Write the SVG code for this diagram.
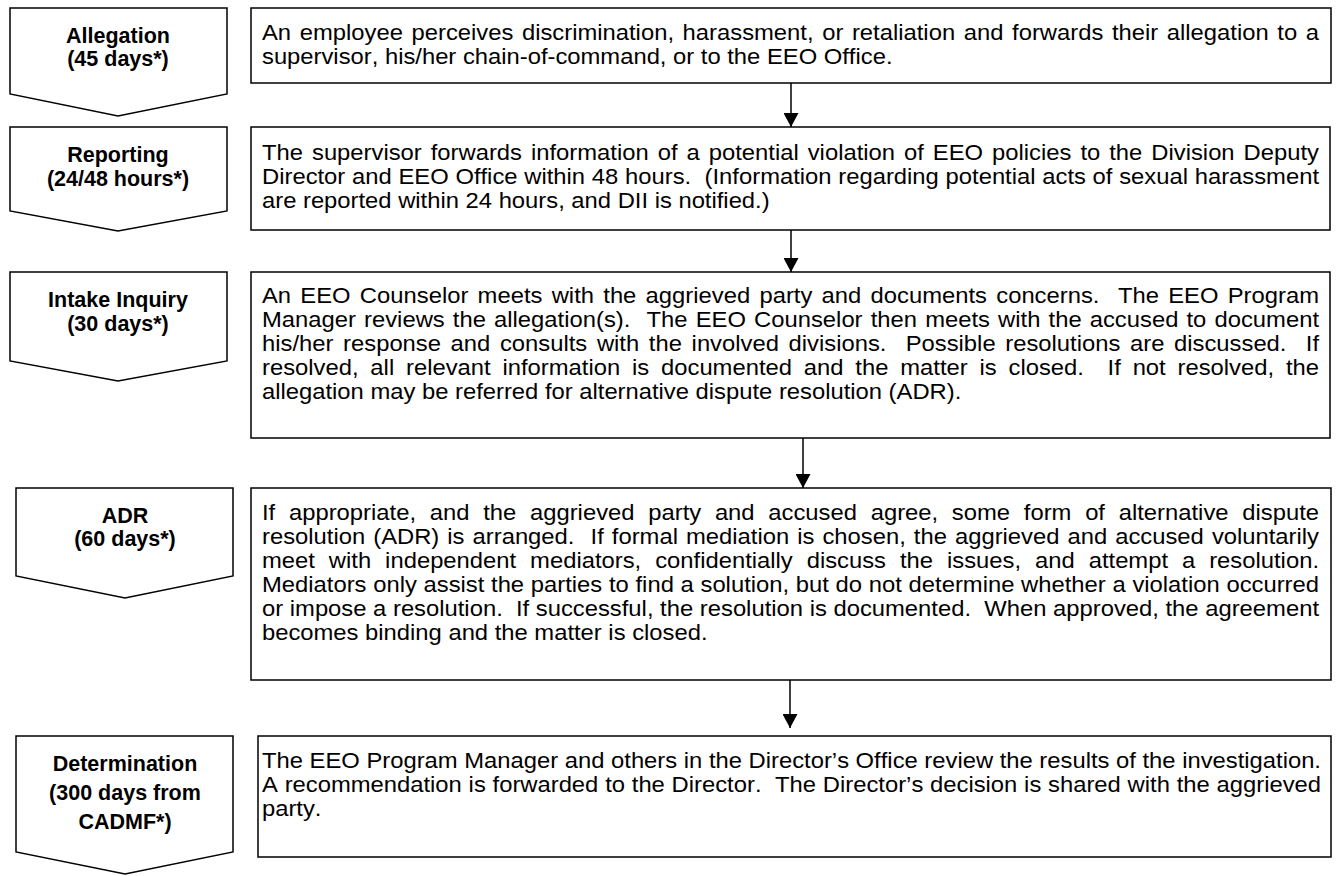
<svg xmlns="http://www.w3.org/2000/svg" width="1344" height="876" viewBox="0 0 1344 876">
<style>
.shape{fill:#fff;stroke:#000;stroke-width:1.5}
.lbl{font-family:"Liberation Sans",Arial,sans-serif;font-size:21.5px;font-weight:bold;text-anchor:middle;fill:#000}
.txt{font-family:"Liberation Sans",Arial,sans-serif;font-size:23.8px;fill:#000;white-space:pre;font-kerning:none}
.conn{stroke:#000;stroke-width:1.5;fill:none}
</style>
<defs>
<marker id="ah" markerUnits="userSpaceOnUse" markerWidth="16" markerHeight="15" refX="14" refY="7.5" orient="auto">
<path d="M0,0 L14,7.5 L0,15 Z" fill="#000"/>
</marker>
</defs>
<rect width="1344" height="876" fill="#fff"/>

<g id="stage-allegation">
<path class="shape" d="M10,8 H227 V94 L118,116 L10,94 Z"/>
<text class="lbl" x="118" y="43">Allegation</text>
<text class="lbl" x="118" y="66">(45 days*)</text>
</g>
<g id="desc-allegation">
<rect class="shape" x="251" y="8" width="1080" height="75"/>
<text class="txt" transform="matrix(1 0 0 0.9 0 39.5)" x="262" y="0" word-spacing="1.99" textLength="1057" lengthAdjust="spacing">An employee perceives discrimination, harassment, or retaliation and forwards their allegation to a</text>
<text class="txt" transform="matrix(1 0 0 0.9 0 63.5)" x="262" y="0">supervisor, his/her chain-of-command, or to the EEO Office.</text>
</g>

<g id="stage-reporting">
<path class="shape" d="M10,127 H227 V211 L118,231 L10,211 Z"/>
<text class="lbl" x="118" y="162">Reporting</text>
<text class="lbl" x="118" y="186">(24/48 hours*)</text>
</g>
<g id="desc-reporting">
<rect class="shape" x="251" y="127" width="1079" height="103"/>
<text class="txt" transform="matrix(1 0 0 0.9 0 160)" x="262" y="0" word-spacing="2.37" textLength="1057" lengthAdjust="spacing">The supervisor forwards information of a potential violation of EEO policies to the Division Deputy</text>
<text class="txt" transform="matrix(1 0 0 0.9 0 184)" x="262" y="0" word-spacing="0.1" textLength="1057" lengthAdjust="spacing">Director and EEO Office within 48 hours.  (Information regarding potential acts of sexual harassment</text>
<text class="txt" transform="matrix(1 0 0 0.9 0 208)" x="262" y="0">are reported within 24 hours, and DII is notified.)</text>
</g>

<g id="stage-intake">
<path class="shape" d="M10,272 H227 V361 L118,381 L10,361 Z"/>
<text class="lbl" x="118" y="307">Intake Inquiry</text>
<text class="lbl" x="118" y="331">(30 days*)</text>
</g>
<g id="desc-intake">
<rect class="shape" x="251" y="272" width="1079" height="166"/>
<text class="txt" transform="matrix(1 0 0 0.9 0 303)" x="262" y="0" word-spacing="2.65" textLength="1057" lengthAdjust="spacing">An EEO Counselor meets with the aggrieved party and documents concerns.  The EEO Program</text>
<text class="txt" transform="matrix(1 0 0 0.9 0 327)" x="262" y="0" word-spacing="1.52" textLength="1057" lengthAdjust="spacing">Manager reviews the allegation(s).  The EEO Counselor then meets with the accused to document</text>
<text class="txt" transform="matrix(1 0 0 0.9 0 351)" x="262" y="0" word-spacing="3.03" textLength="1057" lengthAdjust="spacing">his/her response and consults with the involved divisions.  Possible resolutions are discussed.  If</text>
<text class="txt" transform="matrix(1 0 0 0.9 0 375)" x="262" y="0" word-spacing="5.21" textLength="1057" lengthAdjust="spacing">resolved, all relevant information is documented and the matter is closed.  If not resolved, the</text>
<text class="txt" transform="matrix(1 0 0 0.9 0 399)" x="262" y="0">allegation may be referred for alternative dispute resolution (ADR).</text>
</g>

<g id="stage-adr">
<path class="shape" d="M16,488 H233 V576 L125,598 L16,576 Z"/>
<text class="lbl" x="125" y="523">ADR</text>
<text class="lbl" x="125" y="546">(60 days*)</text>
</g>
<g id="desc-adr">
<rect class="shape" x="251" y="488" width="1080" height="192"/>
<text class="txt" transform="matrix(1 0 0 0.9 0 520)" x="262" y="0" word-spacing="7.12" textLength="1057" lengthAdjust="spacing">If appropriate, and the aggrieved party and accused agree, some form of alternative dispute</text>
<text class="txt" transform="matrix(1 0 0 0.9 0 544)" x="262" y="0" word-spacing="1.43" textLength="1057" lengthAdjust="spacing">resolution (ADR) is arranged.  If formal mediation is chosen, the aggrieved and accused voluntarily</text>
<text class="txt" transform="matrix(1 0 0 0.9 0 568)" x="262" y="0" word-spacing="7.34" textLength="1057" lengthAdjust="spacing">meet with independent mediators, confidentially discuss the issues, and attempt a resolution.</text>
<text class="txt" transform="matrix(1 0 0 0.9 0 592)" x="262" y="0" word-spacing="0.09" textLength="1057" lengthAdjust="spacing">Mediators only assist the parties to find a solution, but do not determine whether a violation occurred</text>
<text class="txt" transform="matrix(1 0 0 0.9 0 616)" x="262" y="0" textLength="1057" lengthAdjust="spacing">or impose a resolution.  If successful, the resolution is documented.  When approved, the agreement</text>
<text class="txt" transform="matrix(1 0 0 0.9 0 640)" x="262" y="0">becomes binding and the matter is closed.</text>
</g>

<g id="stage-determination">
<path class="shape" d="M16,736 H233 V852 L125,874 L16,852 Z"/>
<text class="lbl" x="125" y="771">Determination</text>
<text class="lbl" x="125" y="800">(300 days from</text>
<text class="lbl" x="125" y="829">CADMF*)</text>
</g>
<g id="desc-determination">
<rect class="shape" x="258" y="736" width="1073" height="121"/>
<text class="txt" transform="matrix(1 0 0 0.9 0 768)" x="262" y="0" textLength="1059" lengthAdjust="spacing">The EEO Program Manager and others in the Director’s Office review the results of the investigation.</text>
<text class="txt" transform="matrix(1 0 0 0.9 0 792)" x="262" y="0" word-spacing="0.18" textLength="1059" lengthAdjust="spacing">A recommendation is forwarded to the Director.  The Director’s decision is shared with the aggrieved</text>
<text class="txt" transform="matrix(1 0 0 0.9 0 816)" x="262" y="0">party.</text>
</g>

<g id="connectors">
<line class="conn" x1="791" y1="83" x2="791" y2="127" marker-end="url(#ah)"/>
<line class="conn" x1="791" y1="230" x2="791" y2="272" marker-end="url(#ah)"/>
<line class="conn" x1="803" y1="438" x2="803" y2="488" marker-end="url(#ah)"/>
<line class="conn" x1="790" y1="680" x2="790" y2="728" marker-end="url(#ah)"/>
</g>
</svg>
